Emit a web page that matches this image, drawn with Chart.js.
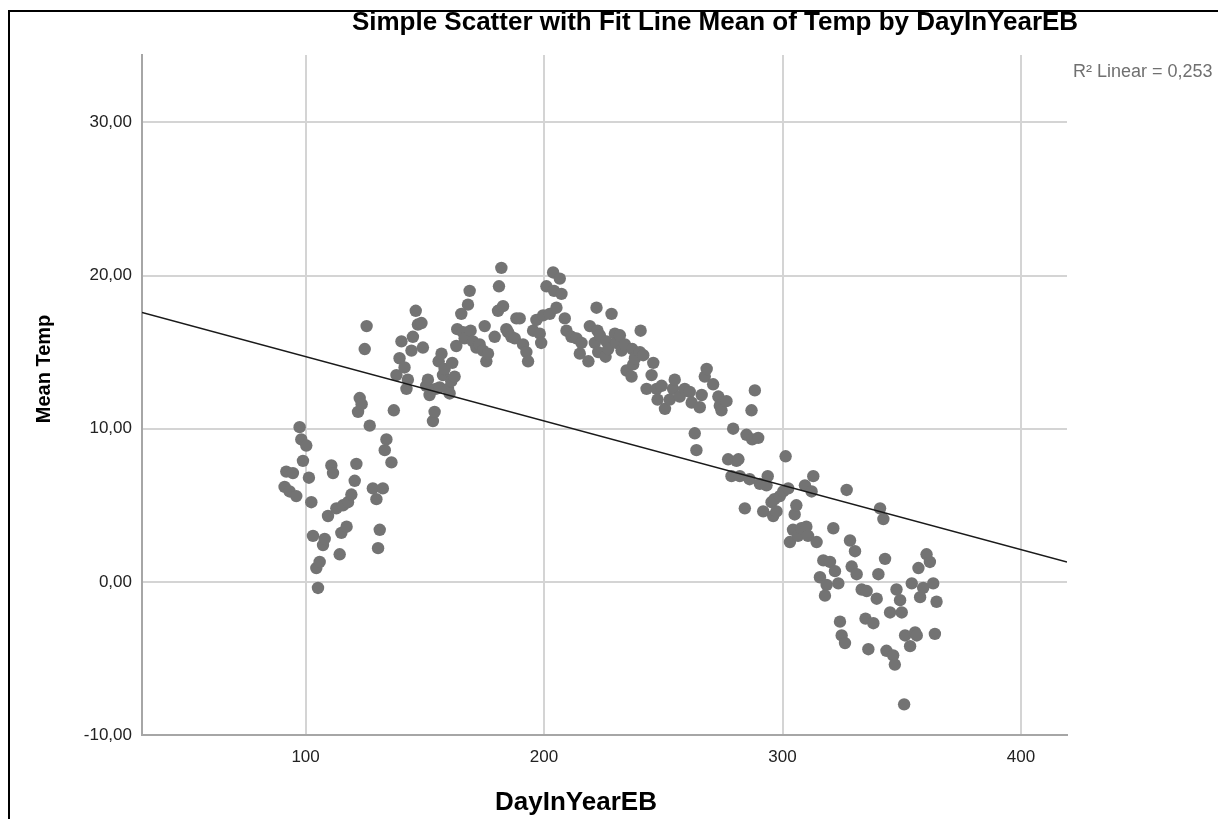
<!DOCTYPE html>
<html>
<head>
<meta charset="utf-8">
<script src="https://cdn.jsdelivr.net/npm/chart.js@4"></script>
<style>
  html, body { margin: 0; padding: 0; background: #ffffff; }
  canvas { display: block; }
</style>
</head>
<body>
<canvas id="c" width="1218" height="819"></canvas>
<script>
// ---- data ----
const days = [
  91.2, 91.9, 93.3, 94.7, 96.1, 97.5, 98.2, 98.9, 100.3, 101.4,
  102.4, 103.1, 104.5, 105.2, 105.9, 107.3, 108.0, 109.4, 110.8, 111.5,
  112.9, 114.3, 115.0, 115.7, 117.2, 117.8, 119.2, 120.6, 121.3, 122.0,
  122.7, 123.5, 124.8, 125.6, 126.9, 128.2, 129.7, 130.4, 131.1, 132.4,
  133.2, 133.9, 136.0, 137.0, 138.1, 139.4, 140.2, 141.5, 142.3, 142.9,
  144.4, 145.0, 146.2, 147.1, 148.6, 149.2, 150.6, 151.3, 152.0, 153.4,
  154.1, 154.6, 155.8, 156.2, 157.0, 157.6, 158.3, 159.7, 160.4, 161.1,
  161.5, 162.5, 163.2, 163.6, 165.3, 166.0, 166.7, 168.1, 168.8, 169.2,
  170.2, 171.6, 173.0, 174.4, 175.1, 175.8, 176.5, 179.3, 180.7, 181.1,
  182.1, 182.8, 184.2, 184.9, 186.3, 187.7, 188.4, 189.8, 191.2, 192.6,
  193.3, 195.4, 196.8, 198.2, 198.8, 199.6, 201.0, 202.4, 203.8, 204.2,
  205.2, 206.6, 207.3, 208.7, 209.4, 211.5, 213.6, 215.0, 215.7, 218.6,
  219.2, 221.3, 222.0, 222.4, 222.7, 223.4, 225.8, 226.2, 226.9, 228.3,
  229.7, 230.4, 231.8, 232.5, 233.9, 234.6, 236.7, 237.0, 237.4, 238.1,
  240.2, 240.5, 241.6, 243.0, 245.1, 245.8, 247.2, 247.6, 249.3, 250.7,
  252.7, 254.1, 254.8, 256.9, 259.0, 261.1, 261.9, 263.2, 263.9, 265.3,
  266.1, 267.4, 268.2, 270.9, 273.1, 273.7, 274.4, 276.5, 277.2, 278.6,
  279.3, 280.7, 281.5, 282.1, 284.2, 284.9, 286.2, 287.0, 287.3, 288.4,
  289.8, 290.5, 291.9, 293.3, 293.8, 295.4, 296.1, 296.6, 297.5, 298.9,
  300.3, 301.3, 302.4, 303.1, 304.4, 305.1, 305.8, 306.5, 307.9, 309.4,
  310.0, 310.7, 312.2, 312.9, 314.3, 315.7, 317.1, 317.8, 318.5, 319.9,
  321.3, 322.0, 323.4, 324.1, 324.8, 326.2, 326.9, 328.3, 329.0, 330.4,
  331.1, 333.2, 334.8, 335.3, 336.0, 338.1, 339.5, 340.2, 340.9, 342.3,
  343.0, 343.6, 345.1, 346.4, 347.1, 347.8, 349.3, 350.0, 351.0, 351.4,
  353.5, 354.2, 355.6, 356.3, 357.0, 357.7, 359.0, 360.4, 361.8, 363.2,
  363.9, 364.6
];
const meanTemps = [
  6.2, 7.2, 5.9, 7.1, 5.6, 10.1, 9.3, 7.9, 8.9, 6.8,
  5.2, 3.0, 0.9, -0.4, 1.3, 2.4, 2.8, 4.3, 7.6, 7.1,
  4.8, 1.8, 3.2, 5.0, 3.6, 5.2, 5.7, 6.6, 7.7, 11.1,
  12.0, 11.6, 15.2, 16.7, 10.2, 6.1, 5.4, 2.2, 3.4, 6.1,
  8.6, 9.3, 7.8, 11.2, 13.5, 14.6, 15.7, 14.0, 12.6, 13.2,
  15.1, 16.0, 17.7, 16.8, 16.9, 15.3, 12.8, 13.2, 12.2, 10.5,
  11.1, 12.6, 14.4, 12.7, 14.9, 13.5, 13.9, 12.6, 12.3, 13.1,
  14.3, 13.4, 15.4, 16.5, 17.5, 16.3, 15.9, 18.1, 19.0, 16.4,
  15.7, 15.3, 15.5, 15.1, 16.7, 14.4, 14.9, 16.0, 17.7, 19.3,
  20.5, 18.0, 16.5, 16.3, 16.0, 15.9, 17.2, 17.2, 15.5, 15.0,
  14.4, 16.4, 17.1, 16.2, 15.6, 17.4, 19.3, 17.5, 20.2, 19.0,
  17.9, 19.8, 18.8, 17.2, 16.4, 16.0, 15.9, 14.9, 15.6, 14.4,
  16.7, 15.6, 17.9, 16.4, 15.0, 16.1, 14.7, 15.7, 15.2, 17.5,
  16.2, 15.6, 16.1, 15.1, 15.5, 13.8, 13.4, 15.2, 14.2, 14.6,
  15.0, 16.4, 14.8, 12.6, 13.5, 14.3, 12.6, 11.9, 12.8, 11.3,
  11.9, 12.6, 13.2, 12.1, 12.6, 12.4, 11.7, 9.7, 8.6, 11.4,
  12.2, 13.4, 13.9, 12.9, 12.1, 11.5, 11.2, 11.8, 8.0, 6.9,
  10.0, 7.9, 8.0, 6.9, 4.8, 9.6, 6.7, 11.2, 9.3, 12.5,
  9.4, 6.4, 4.6, 6.3, 6.9, 5.2, 4.3, 5.4, 4.6, 5.6,
  5.9, 8.2, 6.1, 2.6, 3.4, 4.4, 5.0, 3.0, 3.5, 6.3,
  3.6, 3.0, 5.9, 6.9, 2.6, 0.3, 1.4, -0.9, -0.2, 1.3,
  3.5, 0.7, -0.1, -2.6, -3.5, -4.0, 6.0, 2.7, 1.0, 2.0,
  0.5, -0.5, -2.4, -0.6, -4.4, -2.7, -1.1, 0.5, 4.8, 4.1,
  1.5, -4.5, -2.0, -4.8, -5.4, -0.5, -1.2, -2.0, -8.0, -3.5,
  -4.2, -0.1, -3.3, -3.5, 0.9, -1.0, -0.4, 1.8, 1.3, -0.1,
  -3.4, -1.3
];
// fit line end points (read at the plot edges)
const fitDays = [31.4, 419.3];
const fitTemps = [17.59, 1.30];
// axis ticks
const xTicks = [100, 200, 300, 400];
const xTickLabels = ['100', '200', '300', '400'];
const yTicks = [-10, 0, 10, 20, 30];
const yTickLabels = ['-10,00', '0,00', '10,00', '20,00', '30,00'];
const xRange = [31.4, 419.3];
const yRange = [-10, 34.4];
const chartTitle = 'Simple Scatter with Fit Line Mean of Temp by DayInYearEB';
const xTitle = 'DayInYearEB';
const yTitle = 'Mean Temp';
const r2Label = 'R\u00B2 Linear = 0,253';

const FONT = '"Liberation Sans", Arial, sans-serif';

const points = days.map((d, i) => ({ x: d, y: meanTemps[i] }));
const fitPoints = fitDays.map((d, i) => ({ x: d, y: fitTemps[i] }));

const decor = {
  id: 'decor',
  afterDraw(chart) {
    const ctx = chart.ctx;
    ctx.save();
    // frame (top and left edges)
    ctx.strokeStyle = '#000';
    ctx.lineWidth = 2;
    ctx.beginPath();
    ctx.moveTo(9, 819);
    ctx.lineTo(9, 11);
    ctx.lineTo(1218, 11);
    ctx.stroke();
    // title
    ctx.fillStyle = '#000';
    ctx.textAlign = 'center';
    ctx.textBaseline = 'middle';
    ctx.font = 'bold 26px ' + FONT;
    ctx.fillText(chartTitle, 715, 23);
    // x title
    ctx.font = 'bold 26px ' + FONT;
    ctx.fillText(xTitle, 576, 803);
    // y title
    ctx.save();
    ctx.translate(44, 369);
    ctx.rotate(-Math.PI / 2);
    ctx.font = 'bold 20px ' + FONT;
    ctx.fillText(yTitle, 0, 0);
    ctx.restore();
    // R2 label
    ctx.fillStyle = '#707070';
    ctx.textAlign = 'left';
    ctx.font = '18px ' + FONT;
    ctx.fillText(r2Label, 1073, 72);
    ctx.restore();
  }
};

new Chart(document.getElementById('c'), {
  type: 'scatter',
  data: {
    datasets: [
      {
        type: 'line',
        data: fitPoints,
        borderColor: '#1a1a1a',
        borderWidth: 1.5,
        pointRadius: 0,
        fill: false,
        order: 0
      },
      {
        data: points,
        backgroundColor: '#737373',
        borderWidth: 0,
        pointRadius: 6.2,
        pointHoverRadius: 6.2,
        order: 1
      }
    ]
  },
  options: {
    responsive: false,
    animation: false,
    devicePixelRatio: 1,
    layout: { padding: { left: 0, top: 55, right: 151, bottom: 0 } },
    plugins: { legend: { display: false }, tooltip: { enabled: false }, title: { display: false } },
    scales: {
      x: {
        type: 'linear',
        min: xRange[0],
        max: xRange[1],
        afterBuildTicks: (axis) => { axis.ticks = xTicks.map(v => ({ value: v })); },
        afterFit: (scale) => { scale.height = 84; },
        grid: { color: '#d4d4d4', lineWidth: 2, drawTicks: false },
        border: { display: true, color: '#a6a6a6', width: 2 },
        ticks: {
          padding: 12,
          color: '#222',
          font: { family: FONT, size: 17 },
          callback: (v) => { const i = xTicks.indexOf(v); return i >= 0 ? xTickLabels[i] : ''; }
        }
      },
      y: {
        type: 'linear',
        min: yRange[0],
        max: yRange[1],
        afterBuildTicks: (axis) => { axis.ticks = yTicks.map(v => ({ value: v })); },
        afterFit: (scale) => { scale.width = 142; },
        grid: { color: '#d4d4d4', lineWidth: 2, drawTicks: false },
        border: { display: true, color: '#a6a6a6', width: 2 },
        ticks: {
          padding: 10,
          color: '#222',
          font: { family: FONT, size: 17 },
          callback: (v) => { const i = yTicks.indexOf(v); return i >= 0 ? yTickLabels[i] : ''; }
        }
      }
    }
  },
  plugins: [decor]
});
</script>
</body>
</html>
